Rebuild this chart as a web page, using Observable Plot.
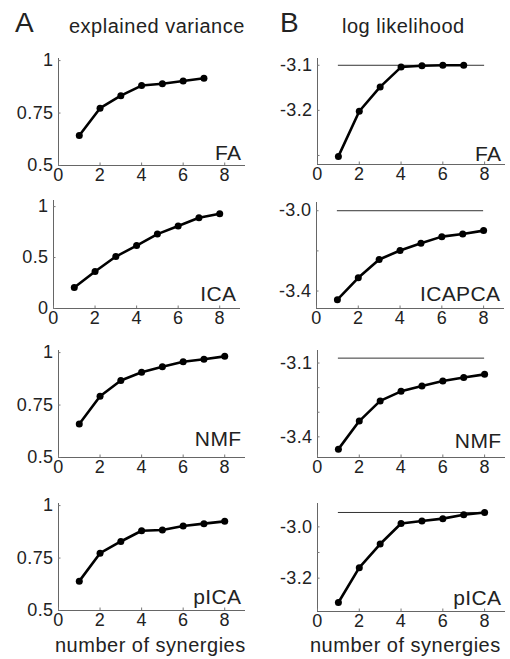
<!DOCTYPE html>
<html>
<head>
<meta charset="utf-8">
<script src="https://cdn.jsdelivr.net/npm/d3@7"></script>
<script src="https://cdn.jsdelivr.net/npm/@observablehq/plot@0.6"></script>
<style>
  html, body { margin: 0; padding: 0; background: white; }
  #wrap { position: relative; width: 510px; height: 659px; overflow: hidden; background: white;
          font-family: "Liberation Sans", Arial, sans-serif; color: #222; }
  .t { position: absolute; line-height: 1; white-space: nowrap; }
  .panel { position: absolute; }
</style>
</head>
<body>
<div id="wrap">
  <div class="t" style="left:15px; top:9px; font-size:28px;">A</div>
  <div class="t" style="left:69px; top:16px; font-size:20px; letter-spacing:0.5px;">explained variance</div>
  <div class="t" style="left:280px; top:9px; font-size:28px;">B</div>
  <div class="t" style="left:342px; top:16px; font-size:20px; letter-spacing:0.5px;">log likelihood</div>
  <div class="t" style="left:55px; top:635px; font-size:20px; letter-spacing:0.5px;">number of synergies</div>
  <div class="t" style="left:310px; top:635px; font-size:20px; letter-spacing:0.5px;">number of synergies</div>
</div>
<script>
// ---- data ----
const nSynergies = [1, 2, 3, 4, 5, 6, 7, 8];
const xTicks = [0, 2, 4, 6, 8];

const faVariance = [0.643, 0.773, 0.833, 0.881, 0.890, 0.903, 0.916];
const icaVariance = [0.206, 0.363, 0.510, 0.618, 0.730, 0.810, 0.890, 0.930];
const nmfVariance = [0.660, 0.792, 0.867, 0.906, 0.933, 0.956, 0.968, 0.982];
const picaVariance = [0.640, 0.773, 0.829, 0.880, 0.884, 0.903, 0.914, 0.925];

const faLogLik = [-3.302, -3.202, -3.148, -3.104, -3.101, -3.100, -3.100];
const icapcaLogLik = [-3.443, -3.334, -3.243, -3.198, -3.162, -3.129, -3.116, -3.099];
const nmfLogLik = [-3.450, -3.336, -3.254, -3.215, -3.193, -3.173, -3.159, -3.146];
const picaLogLik = [-3.295, -3.159, -3.067, -2.987, -2.977, -2.968, -2.953, -2.944];
const referenceLogLik = [-3.100, -3.000, -3.080, -2.944];

const labelsA = ["FA", "ICA", "NMF", "pICA"];
const labelsB = ["FA", "ICAPCA", "NMF", "pICA"];

// labelled y ticks and unlabelled (minor) y ticks per panel
const yTicksA = [[0.5, 0.75, 1], [0, 0.5, 1], [0.5, 0.75, 1], [0.5, 0.75, 1]];
const yTicksB = [[-3.2, -3.1], [-3.4, -3.0], [-3.4, -3.1], [-3.2, -3.0]];
const yMinorB = [[-3.3], [-3.2], [-3.3, -3.2], [-3.1]];

// ---- layout ----
const ML = 50, MR = 12, MT = 10, MB = 30;
const panels = [
  {col: "A", i: 0, values: faVariance, left: 58, top: 58, w: 187, h: 107, yDomain: [0.5, 1.01], fmt: d => String(d), ldy: -6},
  {col: "A", i: 1, values: icaVariance, left: 53, top: 200, w: 187, h: 108, yDomain: [0, 1.06], fmt: d => String(d), ldy: -8},
  {col: "A", i: 2, values: nmfVariance, left: 58, top: 350, w: 187, h: 107, yDomain: [0.5, 1.01], fmt: d => String(d), ldy: -12},
  {col: "A", i: 3, values: picaVariance, left: 58, top: 503, w: 187, h: 107, yDomain: [0.5, 1.01], fmt: d => String(d), ldy: -7},
  {col: "B", i: 0, values: faLogLik, left: 317, top: 58, w: 188, h: 106, yDomain: [-3.32, -3.085], fmt: d => d.toFixed(1), ldy: -4},
  {col: "B", i: 1, values: icapcaLogLik, left: 316, top: 202, w: 188, h: 106, yDomain: [-3.487, -2.959], fmt: d => d.toFixed(1), ldy: -8},
  {col: "B", i: 2, values: nmfLogLik, left: 317, top: 350, w: 188, h: 107, yDomain: [-3.484, -3.049], fmt: d => d.toFixed(1), ldy: -10},
  {col: "B", i: 3, values: picaLogLik, left: 317, top: 503, w: 188, h: 108, yDomain: [-3.33, -2.909], fmt: d => d.toFixed(1), ldy: -7}
];

const wrap = document.getElementById("wrap");
for (const p of panels) {
  const data = p.values.map((v, k) => ({n: nSynergies[k], v}));
  const isB = p.col === "B";
  const label = isB ? labelsB[p.i] : labelsA[p.i];
  const yTicks = isB ? yTicksB[p.i] : yTicksA[p.i];
  const yMinor = isB ? yMinorB[p.i] : [];
  const allY = yTicks.concat(yMinor);
  const fmtY = d => (yTicks.includes(d) ? p.fmt(d) : "");
  const marks = [
    Plot.ruleX([0], {stroke: "#666", strokeWidth: 1}),
    Plot.ruleY([p.yDomain[0]], {stroke: "#666", strokeWidth: 1}),
    Plot.axisX({ticks: xTicks, tickSize: -2.5, tickPadding: 5.5, stroke: "#777", label: null, fontSize: 18}),
    Plot.axisY({ticks: allY, tickFormat: fmtY, tickSize: -2.5, tickPadding: 7.5, stroke: "#777", label: null, fontSize: 18})
  ];
  if (isB) {
    marks.push(Plot.ruleY([referenceLogLik[p.i]], {x1: 1, x2: 8, stroke: "#333", strokeWidth: 1}));
  }
  marks.push(
    Plot.line(data, {x: "n", y: "v", stroke: "black", strokeWidth: 2.6}),
    Plot.dot(data, {x: "n", y: "v", r: 3.5, fill: "black", stroke: "none"}),
    Plot.text([label], {frameAnchor: "bottom-right", text: d => d, textAnchor: "end", lineAnchor: "bottom", dx: -4, dy: p.ldy, fontSize: 21, fill: "#222"})
  );
  const chart = Plot.plot({
    width: p.w + ML + MR,
    height: p.h + MT + MB,
    marginLeft: ML, marginRight: MR, marginTop: MT, marginBottom: MB,
    x: {domain: [0, 9]},
    y: {domain: p.yDomain},
    style: {fontFamily: "'Liberation Sans', Arial, sans-serif", fontSize: "18px", color: "#222", background: "transparent", letterSpacing: "0.4px"},
    marks
  });
  chart.classList.add("panel");
  chart.style.left = (p.left - ML) + "px";
  chart.style.top = (p.top - MT) + "px";
  wrap.appendChild(chart);
}
</script>
</body>
</html>
